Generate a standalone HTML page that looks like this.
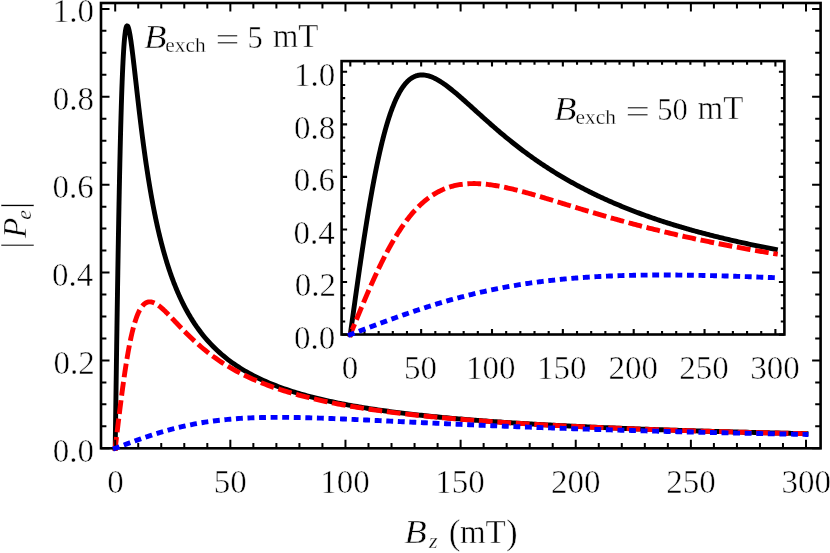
<!DOCTYPE html>
<html lang="en"><head><meta charset="utf-8"><title>Chart</title>
<style>html,body{margin:0;padding:0;background:#fff;}svg{display:block;will-change:transform;}</style></head>
<body>
<svg width="830" height="553" viewBox="0 0 830 553">
<rect x="0" y="0" width="830" height="553" fill="#fff"/>
<path d="M115.166,450.700 L115.200,448.300 L115.489,427.914 L115.778,407.600 L116.067,387.427 L116.356,367.464 L116.645,347.777 L116.934,328.430 L117.223,309.481 L117.512,290.987 L117.801,272.997 L118.090,255.556 L118.379,238.705 L118.669,222.478 L118.958,206.904 L119.247,192.006 L119.536,177.802 L119.825,164.304 L120.114,151.520 L120.403,139.453 L120.692,128.102 L120.981,117.461 L121.270,107.522 L121.559,98.272 L121.848,89.696 L122.137,81.777 L122.426,74.496 L122.715,67.832 L123.004,61.763 L123.293,56.264 L123.582,51.314 L123.871,46.886 L124.160,42.957 L124.449,39.501 L124.738,36.495 L125.027,33.913 L125.316,31.733 L125.606,29.931 L125.895,28.483 L126.184,27.370 L126.473,26.569 L126.762,26.059 L127.051,25.823 L127.340,25.840 L127.629,26.093 L127.918,26.566 L128.207,27.242 L128.496,28.106 L128.785,29.143 L129.074,30.341 L129.363,31.686 L129.652,33.166 L129.941,34.769 L130.230,36.486 L130.519,38.306 L130.808,40.219 L131.097,42.218 L131.386,44.293 L131.675,46.437 L131.964,48.644 L132.253,50.905 L132.543,53.216 L132.832,55.570 L133.121,57.962 L133.410,60.387 L133.699,62.841 L133.988,65.318 L134.277,67.816 L134.566,70.329 L134.855,72.856 L135.144,75.393 L135.433,77.937 L135.722,80.484 L136.011,83.034 L136.300,85.583 L136.589,88.129 L136.878,90.671 L137.167,93.206 L137.456,95.734 L137.745,98.252 L138.034,100.760 L138.323,103.255 L138.612,105.737 L138.901,108.206 L139.190,110.659 L139.480,113.096 L139.769,115.517 L140.058,117.920 L140.347,120.306 L140.636,122.673 L140.925,125.021 L141.214,127.350 L141.503,129.659 L141.792,131.949 L142.081,134.218 L142.370,136.466 L142.659,138.694 L142.948,140.902 L143.237,143.088 L143.526,145.253 L143.815,147.397 L144.104,149.520 L144.393,151.622 L144.682,153.703 L144.971,155.763 L145.260,157.802 L145.549,159.819 L145.838,161.816 L146.127,163.792 L146.417,165.748 L146.706,167.683 L146.995,169.597 L147.284,171.491 L147.573,173.365 L147.862,175.219 L148.151,177.053 L148.440,178.868 L148.729,180.662 L149.018,182.438 L149.307,184.195 L149.596,185.932 L149.885,187.651 L150.174,189.351 L150.463,191.033 L150.752,192.697 L151.041,194.342 L151.330,195.970 L151.619,197.581 L151.908,199.174 L152.197,200.749 L152.486,202.308 L152.775,203.850 L153.064,205.376 L153.354,206.885 L153.643,208.378 L153.932,209.854 L154.221,211.316 L154.510,212.761 L154.799,214.191 L155.088,215.606 L155.377,217.006 L155.666,218.391 L155.955,219.762 L156.244,221.118 L156.533,222.460 L156.822,223.787 L157.111,225.101 L157.400,226.401 L157.689,227.688 L157.978,228.961 L158.267,230.221 L158.556,231.468 L158.845,232.703 L159.134,233.924 L159.423,235.133 L159.712,236.330 L160.001,237.515 L160.291,238.687 L160.580,239.848 L160.869,240.997 L161.158,242.135 L161.447,243.261 L161.736,244.376 L162.025,245.479 L162.314,246.572 L162.603,247.654 L162.892,248.726 L163.181,249.787 L163.470,250.837 L163.759,251.877 L164.048,252.907 L164.337,253.928 L164.626,254.938 L164.915,255.938 L165.204,256.929 L165.493,257.911 L165.782,258.883 L166.071,259.846 L166.360,260.800 L166.649,261.745 L166.938,262.680 L167.228,263.608 L167.517,264.526 L167.806,265.436 L168.095,266.338 L168.384,267.231 L168.673,268.116 L168.962,268.993 L169.251,269.862 L169.540,270.723 L169.829,271.576 L170.118,272.421 L170.407,273.259 L170.696,274.090 L170.985,274.913 L171.274,275.728 L171.563,276.537 L171.852,277.338 L172.141,278.132 L172.430,278.919 L172.719,279.699 L173.008,280.473 L173.297,281.240 L173.586,282.000 L173.875,282.753 L174.165,283.500 L174.454,284.241 L174.743,284.975 L175.032,285.703 L175.321,286.425 L175.610,287.141 L175.899,287.851 L176.188,288.555 L176.477,289.253 L176.766,289.945 L177.055,290.631 L177.344,291.312 L177.633,291.987 L177.922,292.657 L178.211,293.321 L178.500,293.979 L178.789,294.633 L179.078,295.281 L179.367,295.923 L179.656,296.561 L179.945,297.194 L180.234,297.821 L180.523,298.443 L180.812,299.061 L181.102,299.674 L181.391,300.281 L181.680,300.884 L181.969,301.483 L182.258,302.076 L182.547,302.665 L182.836,303.250 L183.125,303.830 L183.414,304.405 L183.703,304.976 L183.992,305.543 L184.281,306.105 L186.360,310.028 L188.440,313.747 L190.519,317.276 L192.598,320.629 L194.678,323.819 L196.757,326.857 L198.837,329.753 L200.916,332.518 L202.995,335.158 L205.075,337.684 L207.154,340.101 L209.233,342.416 L211.313,344.636 L213.392,346.766 L215.471,348.812 L217.551,350.778 L219.630,352.669 L221.710,354.489 L223.789,356.242 L225.868,357.931 L227.948,359.560 L230.027,361.132 L232.106,362.650 L234.186,364.117 L236.265,365.534 L238.344,366.905 L240.424,368.232 L242.503,369.517 L244.582,370.761 L246.662,371.967 L248.741,373.137 L250.821,374.271 L252.900,375.372 L254.979,376.441 L257.059,377.480 L259.138,378.489 L261.217,379.469 L263.297,380.423 L265.376,381.351 L267.455,382.254 L269.535,383.133 L271.614,383.989 L273.694,384.823 L275.773,385.636 L277.852,386.429 L279.932,387.201 L282.011,387.955 L284.090,388.691 L286.170,389.408 L288.249,390.109 L290.328,390.794 L292.408,391.462 L294.487,392.116 L296.567,392.754 L298.646,393.378 L300.725,393.989 L302.805,394.586 L304.884,395.170 L306.963,395.742 L309.043,396.301 L311.122,396.849 L313.201,397.385 L315.281,397.911 L317.360,398.425 L319.439,398.929 L321.519,399.424 L323.598,399.908 L325.678,400.383 L327.757,400.849 L329.836,401.306 L331.916,401.754 L333.995,402.194 L336.074,402.625 L338.154,403.049 L340.233,403.464 L342.312,403.873 L344.392,404.273 L346.471,404.667 L348.551,405.054 L350.630,405.434 L352.709,405.807 L354.789,406.174 L356.868,406.535 L358.947,406.889 L361.027,407.238 L363.106,407.581 L365.185,407.918 L367.265,408.250 L369.344,408.576 L371.424,408.897 L373.503,409.213 L375.582,409.523 L377.662,409.829 L379.741,410.131 L381.820,410.427 L383.900,410.719 L385.979,411.006 L388.058,411.290 L390.138,411.568 L392.217,411.843 L394.296,412.114 L396.376,412.380 L398.455,412.643 L400.535,412.902 L402.614,413.157 L404.693,413.409 L406.773,413.657 L408.852,413.901 L410.931,414.142 L413.011,414.380 L415.090,414.614 L417.169,414.846 L419.249,415.074 L421.328,415.299 L423.408,415.521 L425.487,415.740 L427.566,415.956 L429.646,416.169 L431.725,416.380 L433.804,416.587 L435.884,416.792 L437.963,416.995 L440.042,417.195 L442.122,417.392 L444.201,417.587 L446.281,417.779 L448.360,417.969 L450.439,418.157 L452.519,418.342 L454.598,418.525 L456.677,418.706 L458.757,418.885 L460.836,419.061 L462.915,419.236 L464.995,419.408 L467.074,419.578 L469.153,419.747 L471.233,419.913 L473.312,420.078 L475.392,420.240 L477.471,420.401 L479.550,420.560 L481.630,420.717 L483.709,420.872 L485.788,421.026 L487.868,421.178 L489.947,421.328 L492.026,421.476 L494.106,421.623 L496.185,421.769 L498.265,421.912 L500.344,422.055 L502.423,422.195 L504.503,422.334 L506.582,422.472 L508.661,422.608 L510.741,422.743 L512.820,422.876 L514.899,423.009 L516.979,423.139 L519.058,423.268 L521.138,423.396 L523.217,423.523 L525.296,423.649 L527.376,423.773 L529.455,423.896 L531.534,424.017 L533.614,424.138 L535.693,424.257 L537.772,424.375 L539.852,424.492 L541.931,424.608 L544.010,424.723 L546.090,424.836 L548.169,424.949 L550.249,425.060 L552.328,425.171 L554.407,425.280 L556.487,425.388 L558.566,425.496 L560.645,425.602 L562.725,425.707 L564.804,425.812 L566.883,425.915 L568.963,426.017 L571.042,426.119 L573.122,426.219 L575.201,426.319 L577.280,426.418 L579.360,426.516 L581.439,426.613 L583.518,426.709 L585.598,426.804 L587.677,426.899 L589.756,426.992 L591.836,427.085 L593.915,427.177 L595.995,427.269 L598.074,427.359 L600.153,427.449 L602.233,427.538 L604.312,427.626 L606.391,427.713 L608.471,427.800 L610.550,427.886 L612.629,427.971 L614.709,428.056 L616.788,428.139 L618.867,428.223 L620.947,428.305 L623.026,428.387 L625.106,428.468 L627.185,428.548 L629.264,428.628 L631.344,428.707 L633.423,428.786 L635.502,428.864 L637.582,428.941 L639.661,429.018 L641.740,429.094 L643.820,429.169 L645.899,429.244 L647.979,429.318 L650.058,429.392 L652.137,429.465 L654.217,429.538 L656.296,429.610 L658.375,429.681 L660.455,429.752 L662.534,429.823 L664.613,429.893 L666.693,429.962 L668.772,430.031 L670.852,430.099 L672.931,430.167 L675.010,430.234 L677.090,430.301 L679.169,430.367 L681.248,430.433 L683.328,430.498 L685.407,430.563 L687.486,430.628 L689.566,430.692 L691.645,430.755 L693.724,430.818 L695.804,430.881 L697.883,430.943 L699.963,431.004 L702.042,431.066 L704.121,431.126 L706.201,431.187 L708.280,431.247 L710.359,431.306 L712.439,431.365 L714.518,431.424 L716.597,431.482 L718.677,431.540 L720.756,431.598 L722.836,431.655 L724.915,431.712 L726.994,431.768 L729.074,431.824 L731.153,431.880 L733.232,431.935 L735.312,431.990 L737.391,432.044 L739.470,432.098 L741.550,432.152 L743.629,432.205 L745.709,432.258 L747.788,432.311 L749.867,432.363 L751.947,432.415 L754.026,432.467 L756.105,432.518 L758.185,432.569 L760.264,432.620 L762.343,432.670 L764.423,432.720 L766.502,432.770 L768.581,432.820 L770.661,432.869 L772.740,432.917 L774.820,432.966 L776.899,433.014 L778.978,433.062 L781.058,433.109 L783.137,433.157 L785.216,433.204 L787.296,433.250 L789.375,433.297 L791.454,433.343 L793.534,433.389 L795.613,433.434 L797.693,433.479 L799.772,433.524 L801.851,433.569 L803.931,433.614 L806.010,433.658 L808.409,433.709" fill="none" stroke="#000" stroke-width="4.90"  stroke-linejoin="round"/>
<path d="M114.919,450.683 L115.200,448.300 L115.489,445.849 L115.778,443.399 L116.067,440.951 L116.356,438.506 L116.645,436.065 L116.934,433.629 L117.223,431.199 L117.512,428.777 L117.801,426.363 L118.090,423.957 L118.379,421.562 L118.669,419.178 L118.958,416.805 L119.247,414.446 L119.536,412.100 L119.825,409.770 L120.114,407.454 L120.403,405.155 L120.692,402.873 L120.981,400.609 L121.270,398.364 L121.559,396.139 L121.848,393.933 L122.137,391.749 L122.426,389.587 L122.715,387.446 L123.004,385.329 L123.293,383.235 L123.582,381.165 L123.871,379.120 L124.160,377.100 L124.449,375.106 L124.738,373.138 L125.027,371.197 L125.316,369.282 L125.606,367.395 L125.895,365.535 L126.184,363.704 L126.473,361.901 L126.762,360.126 L127.051,358.381 L127.340,356.664 L127.629,354.977 L127.918,353.319 L128.207,351.690 L128.496,350.091 L128.785,348.522 L129.074,346.983 L129.363,345.474 L129.652,343.994 L129.941,342.545 L130.230,341.125 L130.519,339.735 L130.808,338.375 L131.097,337.044 L131.386,335.744 L131.675,334.472 L131.964,333.230 L132.253,332.017 L132.543,330.833 L132.832,329.678 L133.121,328.552 L133.410,327.454 L133.699,326.384 L133.988,325.342 L134.277,324.328 L134.566,323.342 L134.855,322.382 L135.144,321.450 L135.433,320.544 L135.722,319.665 L136.011,318.811 L136.300,317.984 L136.589,317.182 L136.878,316.404 L137.167,315.652 L137.456,314.924 L137.745,314.220 L138.034,313.540 L138.323,312.884 L138.612,312.250 L138.901,311.639 L139.190,311.051 L139.480,310.485 L139.769,309.940 L140.058,309.416 L140.347,308.914 L140.636,308.432 L140.925,307.970 L141.214,307.529 L141.503,307.106 L141.792,306.703 L142.081,306.319 L142.370,305.953 L142.659,305.606 L142.948,305.276 L143.237,304.963 L143.526,304.668 L143.815,304.389 L144.104,304.127 L144.393,303.881 L144.682,303.651 L144.971,303.435 L145.260,303.235 L145.549,303.050 L145.838,302.879 L146.127,302.723 L146.417,302.580 L146.706,302.451 L146.995,302.334 L147.284,302.231 L147.573,302.140 L147.862,302.062 L148.151,301.996 L148.440,301.941 L148.729,301.898 L149.018,301.866 L149.307,301.845 L149.596,301.835 L149.885,301.835 L150.174,301.845 L150.463,301.865 L150.752,301.894 L151.041,301.933 L151.330,301.981 L151.619,302.039 L151.908,302.104 L152.197,302.178 L152.486,302.261 L152.775,302.351 L153.064,302.449 L153.354,302.555 L153.643,302.668 L153.932,302.789 L154.221,302.916 L154.510,303.050 L154.799,303.191 L155.088,303.338 L155.377,303.491 L155.666,303.650 L155.955,303.815 L156.244,303.986 L156.533,304.162 L156.822,304.344 L157.111,304.531 L157.400,304.723 L157.689,304.920 L157.978,305.121 L158.267,305.327 L158.556,305.538 L158.845,305.753 L159.134,305.972 L159.423,306.195 L159.712,306.421 L160.001,306.652 L160.291,306.886 L160.580,307.124 L160.869,307.365 L161.158,307.610 L161.447,307.857 L161.736,308.108 L162.025,308.362 L162.314,308.618 L162.603,308.877 L162.892,309.139 L163.181,309.403 L163.470,309.670 L163.759,309.939 L164.048,310.210 L164.337,310.484 L164.626,310.759 L164.915,311.037 L165.204,311.316 L165.493,311.597 L165.782,311.880 L166.071,312.165 L166.360,312.451 L166.649,312.738 L166.938,313.028 L167.228,313.318 L167.517,313.610 L167.806,313.903 L168.095,314.197 L168.384,314.492 L168.673,314.788 L168.962,315.085 L169.251,315.384 L169.540,315.683 L169.829,315.982 L170.118,316.283 L170.407,316.584 L170.696,316.886 L170.985,317.189 L171.274,317.492 L171.563,317.795 L171.852,318.099 L172.141,318.404 L172.430,318.709 L172.719,319.014 L173.008,319.319 L173.297,319.625 L173.586,319.931 L173.875,320.237 L174.165,320.543 L174.454,320.849 L174.743,321.156 L175.032,321.462 L175.321,321.769 L175.610,322.075 L175.899,322.381 L176.188,322.688 L176.477,322.994 L176.766,323.300 L177.055,323.605 L177.344,323.911 L177.633,324.216 L177.922,324.521 L178.211,324.826 L178.500,325.131 L178.789,325.435 L179.078,325.739 L179.367,326.042 L179.656,326.345 L179.945,326.648 L180.234,326.950 L180.523,327.252 L180.812,327.553 L181.102,327.854 L181.391,328.154 L181.680,328.454 L181.969,328.753 L182.258,329.052 L182.547,329.350 L182.836,329.648 L183.125,329.945 L183.414,330.241 L183.703,330.537 L183.992,330.832 L184.281,331.127 L186.360,333.225 L188.440,335.286 L190.519,337.306 L192.598,339.284 L194.678,341.218 L196.757,343.107 L198.837,344.950 L200.916,346.748 L202.995,348.501 L205.075,350.208 L207.154,351.872 L209.233,353.491 L211.313,355.068 L213.392,356.603 L215.471,358.097 L217.551,359.551 L219.630,360.966 L221.710,362.343 L223.789,363.684 L225.868,364.989 L227.948,366.259 L230.027,367.496 L232.106,368.700 L234.186,369.873 L236.265,371.015 L238.344,372.128 L240.424,373.213 L242.503,374.270 L244.582,375.300 L246.662,376.304 L248.741,377.284 L250.821,378.239 L252.900,379.171 L254.979,380.080 L257.059,380.967 L259.138,381.833 L261.217,382.678 L263.297,383.504 L265.376,384.310 L267.455,385.098 L269.535,385.868 L271.614,386.620 L273.694,387.355 L275.773,388.074 L277.852,388.777 L279.932,389.465 L282.011,390.138 L284.090,390.796 L286.170,391.440 L288.249,392.071 L290.328,392.688 L292.408,393.293 L294.487,393.885 L296.567,394.465 L298.646,395.033 L300.725,395.590 L302.805,396.135 L304.884,396.670 L306.963,397.195 L309.043,397.709 L311.122,398.213 L313.201,398.708 L315.281,399.194 L317.360,399.670 L319.439,400.137 L321.519,400.596 L323.598,401.046 L325.678,401.489 L327.757,401.923 L329.836,402.349 L331.916,402.768 L333.995,403.180 L336.074,403.584 L338.154,403.982 L340.233,404.372 L342.312,404.756 L344.392,405.134 L346.471,405.505 L348.551,405.870 L350.630,406.229 L352.709,406.582 L354.789,406.929 L356.868,407.271 L358.947,407.607 L361.027,407.938 L363.106,408.263 L365.185,408.584 L367.265,408.899 L369.344,409.210 L371.424,409.516 L373.503,409.817 L375.582,410.113 L377.662,410.406 L379.741,410.693 L381.820,410.977 L383.900,411.256 L385.979,411.532 L388.058,411.803 L390.138,412.071 L392.217,412.334 L394.296,412.594 L396.376,412.850 L398.455,413.103 L400.535,413.352 L402.614,413.597 L404.693,413.840 L406.773,414.079 L408.852,414.314 L410.931,414.547 L413.011,414.776 L415.090,415.002 L417.169,415.226 L419.249,415.446 L421.328,415.664 L423.408,415.878 L425.487,416.090 L427.566,416.300 L429.646,416.506 L431.725,416.710 L433.804,416.911 L435.884,417.110 L437.963,417.307 L440.042,417.501 L442.122,417.692 L444.201,417.881 L446.281,418.068 L448.360,418.253 L450.439,418.435 L452.519,418.616 L454.598,418.794 L456.677,418.970 L458.757,419.144 L460.836,419.316 L462.915,419.486 L464.995,419.654 L467.074,419.820 L469.153,419.984 L471.233,420.146 L473.312,420.307 L475.392,420.465 L477.471,420.622 L479.550,420.777 L481.630,420.931 L483.709,421.082 L485.788,421.232 L487.868,421.381 L489.947,421.528 L492.026,421.673 L494.106,421.817 L496.185,421.959 L498.265,422.100 L500.344,422.239 L502.423,422.376 L504.503,422.513 L506.582,422.648 L508.661,422.781 L510.741,422.913 L512.820,423.044 L514.899,423.173 L516.979,423.302 L519.058,423.428 L521.138,423.554 L523.217,423.678 L525.296,423.801 L527.376,423.923 L529.455,424.044 L531.534,424.163 L533.614,424.282 L535.693,424.399 L537.772,424.515 L539.852,424.630 L541.931,424.744 L544.010,424.856 L546.090,424.968 L548.169,425.079 L550.249,425.188 L552.328,425.297 L554.407,425.404 L556.487,425.511 L558.566,425.617 L560.645,425.721 L562.725,425.825 L564.804,425.928 L566.883,426.029 L568.963,426.130 L571.042,426.230 L573.122,426.329 L575.201,426.428 L577.280,426.525 L579.360,426.621 L581.439,426.717 L583.518,426.812 L585.598,426.906 L587.677,426.999 L589.756,427.091 L591.836,427.183 L593.915,427.274 L595.995,427.364 L598.074,427.453 L600.153,427.541 L602.233,427.629 L604.312,427.716 L606.391,427.802 L608.471,427.888 L610.550,427.973 L612.629,428.057 L614.709,428.140 L616.788,428.223 L618.867,428.305 L620.947,428.387 L623.026,428.467 L625.106,428.548 L627.185,428.627 L629.264,428.706 L631.344,428.784 L633.423,428.862 L635.502,428.939 L637.582,429.015 L639.661,429.091 L641.740,429.166 L643.820,429.241 L645.899,429.315 L647.979,429.388 L650.058,429.461 L652.137,429.534 L654.217,429.605 L656.296,429.677 L658.375,429.747 L660.455,429.818 L662.534,429.887 L664.613,429.956 L666.693,430.025 L668.772,430.093 L670.852,430.161 L672.931,430.228 L675.010,430.294 L677.090,430.361 L679.169,430.426 L681.248,430.491 L683.328,430.556 L685.407,430.620 L687.486,430.684 L689.566,430.747 L691.645,430.810 L693.724,430.873 L695.804,430.935 L697.883,430.996 L699.963,431.057 L702.042,431.118 L704.121,431.178 L706.201,431.238 L708.280,431.297 L710.359,431.356 L712.439,431.415 L714.518,431.473 L716.597,431.531 L718.677,431.588 L720.756,431.645 L722.836,431.702 L724.915,431.758 L726.994,431.814 L729.074,431.870 L731.153,431.925 L733.232,431.980 L735.312,432.034 L737.391,432.088 L739.470,432.142 L741.550,432.195 L743.629,432.248 L745.709,432.301 L747.788,432.353 L749.867,432.405 L751.947,432.456 L754.026,432.508 L756.105,432.559 L758.185,432.609 L760.264,432.659 L762.343,432.709 L764.423,432.759 L766.502,432.808 L768.581,432.857 L770.661,432.906 L772.740,432.955 L774.820,433.003 L776.899,433.051 L778.978,433.098 L781.058,433.145 L783.137,433.192 L785.216,433.239 L787.296,433.285 L789.375,433.331 L791.454,433.377 L793.534,433.423 L795.613,433.468 L797.693,433.513 L799.772,433.557 L801.851,433.602 L803.931,433.646 L806.010,433.690 L808.409,433.741" fill="none" stroke="#f00" stroke-width="4.90" stroke-dasharray="13.8 4.7" stroke-linejoin="round"/>
<path d="M138.23,448.30 v-5.40 M138.23,3.00 v5.40 M161.25,448.30 v-5.40 M161.25,3.00 v5.40 M184.28,448.30 v-5.40 M184.28,3.00 v5.40 M207.31,448.30 v-5.40 M207.31,3.00 v5.40 M253.36,448.30 v-5.40 M253.36,3.00 v5.40 M276.39,448.30 v-5.40 M276.39,3.00 v5.40 M299.42,448.30 v-5.40 M299.42,3.00 v5.40 M322.44,448.30 v-5.40 M322.44,3.00 v5.40 M368.50,448.30 v-5.40 M368.50,3.00 v5.40 M391.52,448.30 v-5.40 M391.52,3.00 v5.40 M414.55,448.30 v-5.40 M414.55,3.00 v5.40 M437.58,448.30 v-5.40 M437.58,3.00 v5.40 M483.63,448.30 v-5.40 M483.63,3.00 v5.40 M506.66,448.30 v-5.40 M506.66,3.00 v5.40 M529.69,448.30 v-5.40 M529.69,3.00 v5.40 M552.71,448.30 v-5.40 M552.71,3.00 v5.40 M598.77,448.30 v-5.40 M598.77,3.00 v5.40 M621.79,448.30 v-5.40 M621.79,3.00 v5.40 M644.82,448.30 v-5.40 M644.82,3.00 v5.40 M667.85,448.30 v-5.40 M667.85,3.00 v5.40 M713.90,448.30 v-5.40 M713.90,3.00 v5.40 M736.93,448.30 v-5.40 M736.93,3.00 v5.40 M759.96,448.30 v-5.40 M759.96,3.00 v5.40 M782.98,448.30 v-5.40 M782.98,3.00 v5.40 M115.20,448.30 v-8.50 M115.20,3.00 v8.50 M230.34,448.30 v-8.50 M230.34,3.00 v8.50 M345.47,448.30 v-8.50 M345.47,3.00 v8.50 M460.61,448.30 v-8.50 M460.61,3.00 v8.50 M575.74,448.30 v-8.50 M575.74,3.00 v8.50 M690.88,448.30 v-8.50 M690.88,3.00 v8.50 M806.01,448.30 v-8.50 M806.01,3.00 v8.50 M101.00,426.33 h5.40 M820.60,426.33 h-5.40 M101.00,404.36 h5.40 M820.60,404.36 h-5.40 M101.00,382.39 h5.40 M820.60,382.39 h-5.40 M101.00,338.45 h5.40 M820.60,338.45 h-5.40 M101.00,316.48 h5.40 M820.60,316.48 h-5.40 M101.00,294.51 h5.40 M820.60,294.51 h-5.40 M101.00,250.57 h5.40 M820.60,250.57 h-5.40 M101.00,228.60 h5.40 M820.60,228.60 h-5.40 M101.00,206.63 h5.40 M820.60,206.63 h-5.40 M101.00,162.69 h5.40 M820.60,162.69 h-5.40 M101.00,140.72 h5.40 M820.60,140.72 h-5.40 M101.00,118.75 h5.40 M820.60,118.75 h-5.40 M101.00,74.81 h5.40 M820.60,74.81 h-5.40 M101.00,52.84 h5.40 M820.60,52.84 h-5.40 M101.00,30.87 h5.40 M820.60,30.87 h-5.40 M101.00,448.30 h8.50 M820.60,448.30 h-8.50 M101.00,360.42 h8.50 M820.60,360.42 h-8.50 M101.00,272.54 h8.50 M820.60,272.54 h-8.50 M101.00,184.66 h8.50 M820.60,184.66 h-8.50 M101.00,96.78 h8.50 M820.60,96.78 h-8.50 M101.00,8.90 h8.50 M820.60,8.90 h-8.50 " stroke="#000" stroke-width="2.00" fill="none"/>
<rect x="101.00" y="3.00" width="719.60" height="445.30" fill="none" stroke="#000" stroke-width="2.6"/>
<path d="M112.955,449.150 L115.200,448.300 L115.489,448.191 L115.778,448.081 L116.067,447.972 L116.356,447.862 L116.645,447.753 L116.934,447.644 L117.223,447.534 L117.512,447.425 L117.801,447.316 L118.090,447.206 L118.379,447.097 L118.669,446.988 L118.958,446.878 L119.247,446.769 L119.536,446.660 L119.825,446.551 L120.114,446.442 L120.403,446.333 L120.692,446.224 L120.981,446.114 L121.270,446.006 L121.559,445.897 L121.848,445.788 L122.137,445.679 L122.426,445.570 L122.715,445.461 L123.004,445.353 L123.293,445.244 L123.582,445.135 L123.871,445.027 L124.160,444.918 L124.449,444.810 L124.738,444.702 L125.027,444.593 L125.316,444.485 L125.606,444.377 L125.895,444.269 L126.184,444.161 L126.473,444.053 L126.762,443.945 L127.051,443.838 L127.340,443.730 L127.629,443.622 L127.918,443.515 L128.207,443.407 L128.496,443.300 L128.785,443.193 L129.074,443.086 L129.363,442.979 L129.652,442.872 L129.941,442.765 L130.230,442.658 L130.519,442.552 L130.808,442.445 L131.097,442.339 L131.386,442.232 L131.675,442.126 L131.964,442.020 L132.253,441.914 L132.543,441.808 L132.832,441.703 L133.121,441.597 L133.410,441.491 L133.699,441.386 L133.988,441.281 L134.277,441.176 L134.566,441.071 L134.855,440.966 L135.144,440.861 L135.433,440.757 L135.722,440.652 L136.011,440.548 L136.300,440.444 L136.589,440.340 L136.878,440.236 L137.167,440.132 L137.456,440.029 L137.745,439.925 L138.034,439.822 L138.323,439.719 L138.612,439.616 L138.901,439.513 L139.190,439.410 L139.480,439.308 L139.769,439.205 L140.058,439.103 L140.347,439.001 L140.636,438.899 L140.925,438.798 L141.214,438.696 L141.503,438.595 L141.792,438.493 L142.081,438.392 L142.370,438.292 L142.659,438.191 L142.948,438.090 L143.237,437.990 L143.526,437.890 L143.815,437.790 L144.104,437.690 L144.393,437.591 L144.682,437.491 L144.971,437.392 L145.260,437.293 L145.549,437.194 L145.838,437.096 L146.127,436.997 L146.417,436.899 L146.706,436.801 L146.995,436.703 L147.284,436.606 L147.573,436.508 L147.862,436.411 L148.151,436.314 L148.440,436.217 L148.729,436.120 L149.018,436.024 L149.307,435.928 L149.596,435.832 L149.885,435.736 L150.174,435.640 L150.463,435.545 L150.752,435.450 L151.041,435.355 L151.330,435.260 L151.619,435.166 L151.908,435.072 L152.197,434.977 L152.486,434.884 L152.775,434.790 L153.064,434.697 L153.354,434.603 L153.643,434.511 L153.932,434.418 L154.221,434.325 L154.510,434.233 L154.799,434.141 L155.088,434.049 L155.377,433.958 L155.666,433.866 L155.955,433.775 L156.244,433.685 L156.533,433.594 L156.822,433.504 L157.111,433.413 L157.400,433.324 L157.689,433.234 L157.978,433.145 L158.267,433.055 L158.556,432.966 L158.845,432.878 L159.134,432.789 L159.423,432.701 L159.712,432.613 L160.001,432.526 L160.291,432.438 L160.580,432.351 L160.869,432.264 L161.158,432.177 L161.447,432.091 L161.736,432.005 L162.025,431.919 L162.314,431.833 L162.603,431.748 L162.892,431.663 L163.181,431.578 L163.470,431.493 L163.759,431.409 L164.048,431.325 L164.337,431.241 L164.626,431.157 L164.915,431.074 L165.204,430.991 L165.493,430.908 L165.782,430.825 L166.071,430.743 L166.360,430.661 L166.649,430.579 L166.938,430.498 L167.228,430.417 L167.517,430.336 L167.806,430.255 L168.095,430.175 L168.384,430.095 L168.673,430.015 L168.962,429.935 L169.251,429.856 L169.540,429.777 L169.829,429.698 L170.118,429.619 L170.407,429.541 L170.696,429.463 L170.985,429.386 L171.274,429.308 L171.563,429.231 L171.852,429.154 L172.141,429.077 L172.430,429.001 L172.719,428.925 L173.008,428.849 L173.297,428.774 L173.586,428.699 L173.875,428.624 L174.165,428.549 L174.454,428.475 L174.743,428.400 L175.032,428.327 L175.321,428.253 L175.610,428.180 L175.899,428.107 L176.188,428.034 L176.477,427.962 L176.766,427.889 L177.055,427.818 L177.344,427.746 L177.633,427.675 L177.922,427.604 L178.211,427.533 L178.500,427.462 L178.789,427.392 L179.078,427.322 L179.367,427.253 L179.656,427.183 L179.945,427.114 L180.234,427.045 L180.523,426.977 L180.812,426.909 L181.102,426.841 L181.391,426.773 L181.680,426.706 L181.969,426.639 L182.258,426.572 L182.547,426.505 L182.836,426.439 L183.125,426.373 L183.414,426.307 L183.703,426.242 L183.992,426.177 L184.281,426.112 L186.360,425.654 L188.440,425.210 L190.519,424.781 L192.598,424.366 L194.678,423.966 L196.757,423.579 L198.837,423.207 L200.916,422.849 L202.995,422.505 L205.075,422.174 L207.154,421.857 L209.233,421.553 L211.313,421.262 L213.392,420.984 L215.471,420.719 L217.551,420.465 L219.630,420.224 L221.710,419.995 L223.789,419.778 L225.868,419.572 L227.948,419.377 L230.027,419.192 L232.106,419.019 L234.186,418.855 L236.265,418.702 L238.344,418.559 L240.424,418.425 L242.503,418.300 L244.582,418.185 L246.662,418.078 L248.741,417.979 L250.821,417.889 L252.900,417.807 L254.979,417.732 L257.059,417.665 L259.138,417.606 L261.217,417.553 L263.297,417.507 L265.376,417.468 L267.455,417.435 L269.535,417.408 L271.614,417.387 L273.694,417.371 L275.773,417.361 L277.852,417.357 L279.932,417.357 L282.011,417.363 L284.090,417.373 L286.170,417.387 L288.249,417.406 L290.328,417.429 L292.408,417.456 L294.487,417.487 L296.567,417.522 L298.646,417.560 L300.725,417.602 L302.805,417.647 L304.884,417.695 L306.963,417.746 L309.043,417.800 L311.122,417.856 L313.201,417.915 L315.281,417.977 L317.360,418.041 L319.439,418.107 L321.519,418.175 L323.598,418.246 L325.678,418.318 L327.757,418.392 L329.836,418.468 L331.916,418.546 L333.995,418.625 L336.074,418.706 L338.154,418.788 L340.233,418.871 L342.312,418.956 L344.392,419.042 L346.471,419.129 L348.551,419.217 L350.630,419.305 L352.709,419.395 L354.789,419.486 L356.868,419.578 L358.947,419.670 L361.027,419.763 L363.106,419.857 L365.185,419.951 L367.265,420.046 L369.344,420.141 L371.424,420.237 L373.503,420.333 L375.582,420.429 L377.662,420.526 L379.741,420.623 L381.820,420.721 L383.900,420.818 L385.979,420.916 L388.058,421.014 L390.138,421.112 L392.217,421.211 L394.296,421.309 L396.376,421.407 L398.455,421.506 L400.535,421.604 L402.614,421.702 L404.693,421.801 L406.773,421.899 L408.852,421.997 L410.931,422.095 L413.011,422.193 L415.090,422.291 L417.169,422.389 L419.249,422.486 L421.328,422.583 L423.408,422.680 L425.487,422.777 L427.566,422.874 L429.646,422.970 L431.725,423.066 L433.804,423.162 L435.884,423.257 L437.963,423.353 L440.042,423.448 L442.122,423.542 L444.201,423.637 L446.281,423.731 L448.360,423.824 L450.439,423.917 L452.519,424.010 L454.598,424.103 L456.677,424.195 L458.757,424.287 L460.836,424.379 L462.915,424.470 L464.995,424.560 L467.074,424.651 L469.153,424.741 L471.233,424.830 L473.312,424.919 L475.392,425.008 L477.471,425.096 L479.550,425.184 L481.630,425.272 L483.709,425.359 L485.788,425.445 L487.868,425.532 L489.947,425.618 L492.026,425.703 L494.106,425.788 L496.185,425.872 L498.265,425.957 L500.344,426.040 L502.423,426.124 L504.503,426.206 L506.582,426.289 L508.661,426.371 L510.741,426.452 L512.820,426.533 L514.899,426.614 L516.979,426.694 L519.058,426.774 L521.138,426.854 L523.217,426.933 L525.296,427.011 L527.376,427.089 L529.455,427.167 L531.534,427.244 L533.614,427.321 L535.693,427.398 L537.772,427.474 L539.852,427.549 L541.931,427.624 L544.010,427.699 L546.090,427.773 L548.169,427.847 L550.249,427.921 L552.328,427.994 L554.407,428.067 L556.487,428.139 L558.566,428.211 L560.645,428.282 L562.725,428.353 L564.804,428.424 L566.883,428.494 L568.963,428.564 L571.042,428.633 L573.122,428.702 L575.201,428.771 L577.280,428.839 L579.360,428.907 L581.439,428.975 L583.518,429.042 L585.598,429.109 L587.677,429.175 L589.756,429.241 L591.836,429.307 L593.915,429.372 L595.995,429.437 L598.074,429.501 L600.153,429.565 L602.233,429.629 L604.312,429.692 L606.391,429.755 L608.471,429.818 L610.550,429.880 L612.629,429.942 L614.709,430.004 L616.788,430.065 L618.867,430.126 L620.947,430.187 L623.026,430.247 L625.106,430.307 L627.185,430.366 L629.264,430.425 L631.344,430.484 L633.423,430.543 L635.502,430.601 L637.582,430.659 L639.661,430.716 L641.740,430.774 L643.820,430.831 L645.899,430.887 L647.979,430.943 L650.058,430.999 L652.137,431.055 L654.217,431.110 L656.296,431.165 L658.375,431.220 L660.455,431.274 L662.534,431.328 L664.613,431.382 L666.693,431.435 L668.772,431.489 L670.852,431.541 L672.931,431.594 L675.010,431.646 L677.090,431.698 L679.169,431.750 L681.248,431.801 L683.328,431.853 L685.407,431.903 L687.486,431.954 L689.566,432.004 L691.645,432.054 L693.724,432.104 L695.804,432.154 L697.883,432.203 L699.963,432.252 L702.042,432.300 L704.121,432.349 L706.201,432.397 L708.280,432.445 L710.359,432.492 L712.439,432.540 L714.518,432.587 L716.597,432.634 L718.677,432.680 L720.756,432.726 L722.836,432.773 L724.915,432.818 L726.994,432.864 L729.074,432.909 L731.153,432.954 L733.232,432.999 L735.312,433.044 L737.391,433.088 L739.470,433.132 L741.550,433.176 L743.629,433.220 L745.709,433.264 L747.788,433.307 L749.867,433.350 L751.947,433.393 L754.026,433.435 L756.105,433.477 L758.185,433.520 L760.264,433.561 L762.343,433.603 L764.423,433.645 L766.502,433.686 L768.581,433.727 L770.661,433.768 L772.740,433.808 L774.820,433.849 L776.899,433.889 L778.978,433.929 L781.058,433.968 L783.137,434.008 L785.216,434.047 L787.296,434.087 L789.375,434.126 L791.454,434.164 L793.534,434.203 L795.613,434.241 L797.693,434.279 L799.772,434.317 L801.851,434.355 L803.931,434.393 L806.010,434.430 L808.410,434.473" fill="none" stroke="#00f" stroke-width="4.90" stroke-dasharray="6.9 4.67" stroke-linejoin="round"/>
<rect x="341.60" y="61.10" width="442.80" height="273.40" fill="#fff" stroke="none"/>
<path d="M349.972,336.977 L350.300,334.600 L350.478,333.312 L350.656,332.023 L350.834,330.735 L351.011,329.447 L351.189,328.159 L351.367,326.871 L351.545,325.584 L351.723,324.297 L351.901,323.010 L352.079,321.724 L352.257,320.438 L352.434,319.153 L352.612,317.868 L352.790,316.584 L352.968,315.301 L353.146,314.018 L353.324,312.736 L353.502,311.455 L353.679,310.175 L353.857,308.895 L354.035,307.617 L354.213,306.340 L354.391,305.063 L354.569,303.788 L354.747,302.514 L354.925,301.241 L355.102,299.969 L355.280,298.698 L355.458,297.429 L355.636,296.161 L355.814,294.895 L355.992,293.630 L356.170,292.366 L356.347,291.104 L356.525,289.844 L356.703,288.585 L356.881,287.328 L357.059,286.072 L357.237,284.819 L357.415,283.567 L357.593,282.317 L357.770,281.069 L357.948,279.822 L358.126,278.578 L358.304,277.336 L358.482,276.096 L358.660,274.858 L358.838,273.622 L359.015,272.388 L359.193,271.157 L359.371,269.927 L359.549,268.700 L359.727,267.476 L359.905,266.253 L360.083,265.033 L360.261,263.816 L360.438,262.601 L360.616,261.389 L360.794,260.179 L360.972,258.972 L361.150,257.767 L361.328,256.566 L361.506,255.367 L361.683,254.170 L361.861,252.977 L362.039,251.786 L362.217,250.598 L362.395,249.413 L362.573,248.231 L362.751,247.053 L362.928,245.877 L363.106,244.704 L363.284,243.534 L363.462,242.367 L363.640,241.204 L363.818,240.043 L363.996,238.886 L364.174,237.732 L364.351,236.582 L364.529,235.434 L364.707,234.290 L364.885,233.150 L365.063,232.013 L365.241,230.879 L365.419,229.749 L365.596,228.622 L365.774,227.499 L365.952,226.379 L366.130,225.263 L366.308,224.150 L366.486,223.041 L366.664,221.936 L366.842,220.835 L367.019,219.737 L367.197,218.643 L367.375,217.553 L367.553,216.466 L367.731,215.384 L367.909,214.305 L368.087,213.230 L368.264,212.159 L368.442,211.092 L368.620,210.029 L368.798,208.969 L368.976,207.914 L369.154,206.863 L369.332,205.816 L369.510,204.773 L369.687,203.734 L369.865,202.699 L370.043,201.668 L370.221,200.641 L370.399,199.618 L370.577,198.600 L370.755,197.586 L370.932,196.576 L371.110,195.570 L371.288,194.569 L371.466,193.571 L371.644,192.578 L371.822,191.590 L372.000,190.605 L372.178,189.625 L372.355,188.650 L372.533,187.678 L372.711,186.711 L372.889,185.749 L373.067,184.790 L373.245,183.837 L373.423,182.887 L373.600,181.942 L373.778,181.002 L373.956,180.066 L374.134,179.134 L374.312,178.207 L374.490,177.285 L374.668,176.367 L374.846,175.453 L375.023,174.544 L375.201,173.640 L375.379,172.740 L375.557,171.844 L375.735,170.953 L375.913,170.067 L376.091,169.185 L376.268,168.308 L376.446,167.436 L376.624,166.568 L376.802,165.704 L376.980,164.846 L377.158,163.992 L377.336,163.142 L377.514,162.297 L377.691,161.457 L377.869,160.621 L378.047,159.790 L378.225,158.964 L378.403,158.142 L378.581,157.325 L378.759,156.513 L378.936,155.705 L379.114,154.902 L379.292,154.104 L379.470,153.310 L379.648,152.521 L379.826,151.736 L380.004,150.956 L380.182,150.181 L380.359,149.411 L380.537,148.645 L380.715,147.884 L380.893,147.127 L381.071,146.375 L381.249,145.628 L381.427,144.885 L381.604,144.147 L381.782,143.414 L381.960,142.686 L382.138,141.961 L382.316,141.242 L382.494,140.527 L382.672,139.817 L382.849,139.112 L383.027,138.411 L383.205,137.715 L383.383,137.023 L383.561,136.336 L383.739,135.654 L383.917,134.976 L384.095,134.302 L384.272,133.634 L384.450,132.970 L384.628,132.310 L384.806,131.655 L384.984,131.005 L385.162,130.359 L385.340,129.718 L385.517,129.081 L385.695,128.449 L385.873,127.821 L386.051,127.198 L386.229,126.579 L386.407,125.965 L386.585,125.355 L386.763,124.750 L386.940,124.149 L387.118,123.553 L387.296,122.961 L387.474,122.374 L387.652,121.791 L387.830,121.212 L388.008,120.638 L388.185,120.068 L388.363,119.503 L388.541,118.942 L388.719,118.386 L388.897,117.833 L389.075,117.285 L389.253,116.742 L389.431,116.203 L389.608,115.668 L389.786,115.137 L389.964,114.611 L390.142,114.089 L390.320,113.571 L390.498,113.057 L390.676,112.548 L390.853,112.043 L391.031,111.542 L391.209,111.045 L391.387,110.553 L391.565,110.065 L391.743,109.581 L391.921,109.101 L392.099,108.625 L392.276,108.153 L392.454,107.685 L392.632,107.222 L392.810,106.762 L394.090,103.576 L395.369,100.595 L396.649,97.813 L397.928,95.225 L399.208,92.825 L400.487,90.606 L401.767,88.564 L403.047,86.691 L404.326,84.981 L405.606,83.429 L406.885,82.027 L408.165,80.772 L409.444,79.655 L410.724,78.672 L412.003,77.816 L413.283,77.083 L414.563,76.466 L415.842,75.960 L417.122,75.560 L418.401,75.260 L419.681,75.057 L420.960,74.944 L422.240,74.918 L423.520,74.973 L424.799,75.106 L426.079,75.313 L427.358,75.589 L428.638,75.931 L429.917,76.334 L431.197,76.796 L432.477,77.312 L433.756,77.881 L435.036,78.498 L436.315,79.160 L437.595,79.865 L438.874,80.610 L440.154,81.392 L441.433,82.210 L442.713,83.060 L443.993,83.940 L445.272,84.848 L446.552,85.782 L447.831,86.741 L449.111,87.722 L450.390,88.724 L451.670,89.744 L452.950,90.782 L454.229,91.836 L455.509,92.904 L456.788,93.985 L458.068,95.079 L459.347,96.182 L460.627,97.296 L461.907,98.417 L463.186,99.547 L464.466,100.682 L465.745,101.823 L467.025,102.969 L468.304,104.119 L469.584,105.272 L470.863,106.427 L472.143,107.584 L473.423,108.742 L474.702,109.901 L475.982,111.059 L477.261,112.217 L478.541,113.374 L479.820,114.529 L481.100,115.682 L482.380,116.833 L483.659,117.980 L484.939,119.125 L486.218,120.266 L487.498,121.403 L488.777,122.537 L490.057,123.665 L491.337,124.789 L492.616,125.909 L493.896,127.023 L495.175,128.131 L496.455,129.235 L497.734,130.332 L499.014,131.424 L500.293,132.510 L501.573,133.589 L502.853,134.662 L504.132,135.729 L505.412,136.790 L506.691,137.844 L507.971,138.891 L509.250,139.932 L510.530,140.965 L511.810,141.992 L513.089,143.012 L514.369,144.025 L515.648,145.032 L516.928,146.031 L518.207,147.023 L519.487,148.008 L520.767,148.986 L522.046,149.957 L523.326,150.920 L524.605,151.877 L525.885,152.827 L527.164,153.769 L528.444,154.704 L529.723,155.633 L531.003,156.554 L532.283,157.468 L533.562,158.376 L534.842,159.276 L536.121,160.169 L537.401,161.056 L538.680,161.935 L539.960,162.808 L541.240,163.673 L542.519,164.532 L543.799,165.384 L545.078,166.230 L546.358,167.069 L547.637,167.901 L548.917,168.726 L550.197,169.545 L551.476,170.358 L552.756,171.163 L554.035,171.963 L555.315,172.756 L556.594,173.543 L557.874,174.323 L559.153,175.098 L560.433,175.866 L561.713,176.628 L562.992,177.383 L564.272,178.133 L565.551,178.877 L566.831,179.615 L568.110,180.347 L569.390,181.073 L570.670,181.793 L571.949,182.508 L573.229,183.216 L574.508,183.920 L575.788,184.617 L577.067,185.309 L578.347,185.996 L579.627,186.677 L580.906,187.353 L582.186,188.023 L583.465,188.688 L584.745,189.348 L586.024,190.002 L587.304,190.652 L588.583,191.296 L589.863,191.935 L591.143,192.569 L592.422,193.199 L593.702,193.823 L594.981,194.442 L596.261,195.057 L597.540,195.667 L598.820,196.272 L600.100,196.872 L601.379,197.468 L602.659,198.059 L603.938,198.646 L605.218,199.228 L606.497,199.806 L607.777,200.379 L609.057,200.948 L610.336,201.512 L611.616,202.072 L612.895,202.628 L614.175,203.180 L615.454,203.728 L616.734,204.271 L618.013,204.810 L619.293,205.346 L620.573,205.877 L621.852,206.404 L623.132,206.928 L624.411,207.447 L625.691,207.963 L626.970,208.475 L628.250,208.983 L629.530,209.487 L630.809,209.987 L632.089,210.484 L633.368,210.978 L634.648,211.467 L635.927,211.953 L637.207,212.436 L638.487,212.915 L639.766,213.390 L641.046,213.863 L642.325,214.331 L643.605,214.797 L644.884,215.259 L646.164,215.717 L647.443,216.173 L648.723,216.625 L650.003,217.074 L651.282,217.520 L652.562,217.963 L653.841,218.402 L655.121,218.839 L656.400,219.272 L657.680,219.703 L658.960,220.130 L660.239,220.555 L661.519,220.976 L662.798,221.395 L664.078,221.811 L665.357,222.223 L666.637,222.633 L667.917,223.041 L669.196,223.445 L670.476,223.847 L671.755,224.246 L673.035,224.642 L674.314,225.036 L675.594,225.427 L676.873,225.815 L678.153,226.201 L679.433,226.584 L680.712,226.965 L681.992,227.343 L683.271,227.718 L684.551,228.091 L685.830,228.462 L687.110,228.830 L688.390,229.196 L689.669,229.559 L690.949,229.920 L692.228,230.279 L693.508,230.635 L694.787,230.989 L696.067,231.341 L697.347,231.691 L698.626,232.038 L699.906,232.383 L701.185,232.726 L702.465,233.066 L703.744,233.405 L705.024,233.741 L706.303,234.075 L707.583,234.407 L708.863,234.737 L710.142,235.065 L711.422,235.391 L712.701,235.715 L713.981,236.037 L715.260,236.357 L716.540,236.675 L717.820,236.991 L719.099,237.304 L720.379,237.617 L721.658,237.927 L722.938,238.235 L724.217,238.541 L725.497,238.846 L726.777,239.148 L728.056,239.449 L729.336,239.748 L730.615,240.045 L731.895,240.341 L733.174,240.634 L734.454,240.926 L735.733,241.216 L737.013,241.505 L738.293,241.791 L739.572,242.076 L740.852,242.360 L742.131,242.641 L743.411,242.921 L744.690,243.200 L745.970,243.477 L747.250,243.752 L748.529,244.025 L749.809,244.297 L751.088,244.568 L752.368,244.836 L753.647,245.104 L754.927,245.370 L756.207,245.634 L757.486,245.896 L758.766,246.158 L760.045,246.417 L761.325,246.676 L762.604,246.933 L763.884,247.188 L765.163,247.442 L766.443,247.694 L767.723,247.946 L769.002,248.195 L770.282,248.444 L771.561,248.690 L772.841,248.936 L774.120,249.180 L775.400,249.423 L777.758,249.871" fill="none" stroke="#000" stroke-width="4.90"  stroke-linejoin="round"/>
<path d="M349.393,336.822 L350.300,334.600 L350.478,334.164 L350.656,333.728 L350.834,333.293 L351.011,332.857 L351.189,332.421 L351.367,331.985 L351.545,331.550 L351.723,331.114 L351.901,330.678 L352.079,330.243 L352.257,329.807 L352.434,329.372 L352.612,328.936 L352.790,328.501 L352.968,328.066 L353.146,327.631 L353.324,327.195 L353.502,326.760 L353.679,326.326 L353.857,325.891 L354.035,325.456 L354.213,325.022 L354.391,324.587 L354.569,324.153 L354.747,323.719 L354.925,323.285 L355.102,322.851 L355.280,322.417 L355.458,321.983 L355.636,321.550 L355.814,321.116 L355.992,320.683 L356.170,320.250 L356.347,319.818 L356.525,319.385 L356.703,318.953 L356.881,318.520 L357.059,318.088 L357.237,317.657 L357.415,317.225 L357.593,316.794 L357.770,316.362 L357.948,315.931 L358.126,315.501 L358.304,315.070 L358.482,314.640 L358.660,314.210 L358.838,313.780 L359.015,313.351 L359.193,312.922 L359.371,312.493 L359.549,312.064 L359.727,311.636 L359.905,311.208 L360.083,310.780 L360.261,310.352 L360.438,309.925 L360.616,309.498 L360.794,309.071 L360.972,308.645 L361.150,308.219 L361.328,307.793 L361.506,307.368 L361.683,306.943 L361.861,306.518 L362.039,306.094 L362.217,305.670 L362.395,305.247 L362.573,304.823 L362.751,304.400 L362.928,303.978 L363.106,303.556 L363.284,303.134 L363.462,302.713 L363.640,302.292 L363.818,301.871 L363.996,301.451 L364.174,301.031 L364.351,300.612 L364.529,300.193 L364.707,299.774 L364.885,299.356 L365.063,298.938 L365.241,298.521 L365.419,298.104 L365.596,297.688 L365.774,297.272 L365.952,296.856 L366.130,296.441 L366.308,296.026 L366.486,295.612 L366.664,295.198 L366.842,294.785 L367.019,294.373 L367.197,293.960 L367.375,293.549 L367.553,293.137 L367.731,292.726 L367.909,292.316 L368.087,291.906 L368.264,291.497 L368.442,291.088 L368.620,290.680 L368.798,290.272 L368.976,289.865 L369.154,289.459 L369.332,289.052 L369.510,288.647 L369.687,288.242 L369.865,287.837 L370.043,287.433 L370.221,287.030 L370.399,286.627 L370.577,286.225 L370.755,285.823 L370.932,285.422 L371.110,285.021 L371.288,284.622 L371.466,284.222 L371.644,283.823 L371.822,283.425 L372.000,283.027 L372.178,282.630 L372.355,282.234 L372.533,281.838 L372.711,281.443 L372.889,281.048 L373.067,280.655 L373.245,280.261 L373.423,279.868 L373.600,279.476 L373.778,279.085 L373.956,278.694 L374.134,278.304 L374.312,277.914 L374.490,277.526 L374.668,277.137 L374.846,276.750 L375.023,276.363 L375.201,275.977 L375.379,275.591 L375.557,275.206 L375.735,274.822 L375.913,274.438 L376.091,274.055 L376.268,273.673 L376.446,273.292 L376.624,272.911 L376.802,272.531 L376.980,272.151 L377.158,271.773 L377.336,271.395 L377.514,271.017 L377.691,270.641 L377.869,270.265 L378.047,269.890 L378.225,269.515 L378.403,269.142 L378.581,268.769 L378.759,268.396 L378.936,268.025 L379.114,267.654 L379.292,267.284 L379.470,266.915 L379.648,266.546 L379.826,266.178 L380.004,265.811 L380.182,265.445 L380.359,265.079 L380.537,264.714 L380.715,264.350 L380.893,263.987 L381.071,263.625 L381.249,263.263 L381.427,262.902 L381.604,262.542 L381.782,262.182 L381.960,261.823 L382.138,261.466 L382.316,261.109 L382.494,260.752 L382.672,260.397 L382.849,260.042 L383.027,259.688 L383.205,259.335 L383.383,258.983 L383.561,258.631 L383.739,258.280 L383.917,257.930 L384.095,257.581 L384.272,257.233 L384.450,256.886 L384.628,256.539 L384.806,256.193 L384.984,255.848 L385.162,255.504 L385.340,255.161 L385.517,254.818 L385.695,254.476 L385.873,254.135 L386.051,253.795 L386.229,253.456 L386.407,253.118 L386.585,252.780 L386.763,252.443 L386.940,252.108 L387.118,251.773 L387.296,251.438 L387.474,251.105 L387.652,250.773 L387.830,250.441 L388.008,250.110 L388.185,249.780 L388.363,249.451 L388.541,249.123 L388.719,248.796 L388.897,248.469 L389.075,248.144 L389.253,247.819 L389.431,247.495 L389.608,247.172 L389.786,246.850 L389.964,246.528 L390.142,246.208 L390.320,245.889 L390.498,245.570 L390.676,245.252 L390.853,244.935 L391.031,244.619 L391.209,244.304 L391.387,243.990 L391.565,243.676 L391.743,243.364 L391.921,243.052 L392.099,242.742 L392.276,242.432 L392.454,242.123 L392.632,241.815 L392.810,241.508 L394.090,239.324 L395.369,237.187 L396.649,235.097 L397.928,233.054 L399.208,231.058 L400.487,229.110 L401.767,227.209 L403.047,225.355 L404.326,223.549 L405.606,221.790 L406.885,220.078 L408.165,218.413 L409.444,216.795 L410.724,215.223 L412.003,213.697 L413.283,212.217 L414.563,210.783 L415.842,209.394 L417.122,208.049 L418.401,206.748 L419.681,205.491 L420.960,204.277 L422.240,203.105 L423.520,201.975 L424.799,200.887 L426.079,199.839 L427.358,198.832 L428.638,197.864 L429.917,196.934 L431.197,196.043 L432.477,195.190 L433.756,194.373 L435.036,193.592 L436.315,192.847 L437.595,192.136 L438.874,191.460 L440.154,190.817 L441.433,190.206 L442.713,189.627 L443.993,189.080 L445.272,188.563 L446.552,188.076 L447.831,187.618 L449.111,187.188 L450.390,186.786 L451.670,186.411 L452.950,186.063 L454.229,185.741 L455.509,185.443 L456.788,185.170 L458.068,184.921 L459.347,184.695 L460.627,184.491 L461.907,184.310 L463.186,184.149 L464.466,184.010 L465.745,183.890 L467.025,183.791 L468.304,183.710 L469.584,183.647 L470.863,183.603 L472.143,183.576 L473.423,183.566 L474.702,183.572 L475.982,183.594 L477.261,183.631 L478.541,183.683 L479.820,183.750 L481.100,183.830 L482.380,183.924 L483.659,184.031 L484.939,184.150 L486.218,184.282 L487.498,184.426 L488.777,184.580 L490.057,184.746 L491.337,184.923 L492.616,185.109 L493.896,185.306 L495.175,185.512 L496.455,185.727 L497.734,185.952 L499.014,186.184 L500.293,186.425 L501.573,186.674 L502.853,186.930 L504.132,187.193 L505.412,187.464 L506.691,187.741 L507.971,188.025 L509.250,188.315 L510.530,188.611 L511.810,188.913 L513.089,189.220 L514.369,189.532 L515.648,189.849 L516.928,190.172 L518.207,190.498 L519.487,190.829 L520.767,191.164 L522.046,191.504 L523.326,191.847 L524.605,192.193 L525.885,192.543 L527.164,192.896 L528.444,193.252 L529.723,193.612 L531.003,193.974 L532.283,194.338 L533.562,194.705 L534.842,195.074 L536.121,195.446 L537.401,195.819 L538.680,196.195 L539.960,196.572 L541.240,196.951 L542.519,197.331 L543.799,197.713 L545.078,198.096 L546.358,198.481 L547.637,198.866 L548.917,199.253 L550.197,199.640 L551.476,200.028 L552.756,200.417 L554.035,200.807 L555.315,201.197 L556.594,201.588 L557.874,201.979 L559.153,202.370 L560.433,202.761 L561.713,203.153 L562.992,203.545 L564.272,203.937 L565.551,204.329 L566.831,204.721 L568.110,205.112 L569.390,205.504 L570.670,205.895 L571.949,206.286 L573.229,206.676 L574.508,207.067 L575.788,207.456 L577.067,207.845 L578.347,208.234 L579.627,208.622 L580.906,209.010 L582.186,209.396 L583.465,209.782 L584.745,210.168 L586.024,210.552 L587.304,210.936 L588.583,211.319 L589.863,211.701 L591.143,212.082 L592.422,212.462 L593.702,212.841 L594.981,213.219 L596.261,213.597 L597.540,213.973 L598.820,214.348 L600.100,214.722 L601.379,215.095 L602.659,215.467 L603.938,215.838 L605.218,216.207 L606.497,216.576 L607.777,216.943 L609.057,217.309 L610.336,217.674 L611.616,218.037 L612.895,218.400 L614.175,218.761 L615.454,219.121 L616.734,219.479 L618.013,219.836 L619.293,220.192 L620.573,220.547 L621.852,220.900 L623.132,221.252 L624.411,221.603 L625.691,221.952 L626.970,222.300 L628.250,222.647 L629.530,222.992 L630.809,223.336 L632.089,223.678 L633.368,224.020 L634.648,224.359 L635.927,224.698 L637.207,225.035 L638.487,225.371 L639.766,225.705 L641.046,226.038 L642.325,226.369 L643.605,226.699 L644.884,227.028 L646.164,227.355 L647.443,227.681 L648.723,228.006 L650.003,228.329 L651.282,228.650 L652.562,228.971 L653.841,229.290 L655.121,229.607 L656.400,229.923 L657.680,230.238 L658.960,230.551 L660.239,230.863 L661.519,231.174 L662.798,231.483 L664.078,231.791 L665.357,232.097 L666.637,232.402 L667.917,232.706 L669.196,233.008 L670.476,233.309 L671.755,233.609 L673.035,233.907 L674.314,234.204 L675.594,234.500 L676.873,234.794 L678.153,235.087 L679.433,235.378 L680.712,235.668 L681.992,235.957 L683.271,236.245 L684.551,236.531 L685.830,236.816 L687.110,237.099 L688.390,237.381 L689.669,237.662 L690.949,237.942 L692.228,238.220 L693.508,238.497 L694.787,238.773 L696.067,239.048 L697.347,239.321 L698.626,239.593 L699.906,239.863 L701.185,240.133 L702.465,240.401 L703.744,240.668 L705.024,240.934 L706.303,241.198 L707.583,241.461 L708.863,241.723 L710.142,241.984 L711.422,242.243 L712.701,242.502 L713.981,242.759 L715.260,243.015 L716.540,243.270 L717.820,243.523 L719.099,243.775 L720.379,244.027 L721.658,244.277 L722.938,244.526 L724.217,244.773 L725.497,245.020 L726.777,245.265 L728.056,245.509 L729.336,245.753 L730.615,245.995 L731.895,246.235 L733.174,246.475 L734.454,246.714 L735.733,246.951 L737.013,247.188 L738.293,247.423 L739.572,247.657 L740.852,247.890 L742.131,248.122 L743.411,248.353 L744.690,248.583 L745.970,248.812 L747.250,249.040 L748.529,249.267 L749.809,249.493 L751.088,249.717 L752.368,249.941 L753.647,250.163 L754.927,250.385 L756.207,250.606 L757.486,250.825 L758.766,251.044 L760.045,251.261 L761.325,251.478 L762.604,251.693 L763.884,251.908 L765.163,252.121 L766.443,252.334 L767.723,252.546 L769.002,252.756 L770.282,252.966 L771.561,253.175 L772.841,253.383 L774.120,253.590 L775.400,253.796 L777.770,254.177" fill="none" stroke="#f00" stroke-width="4.90" stroke-dasharray="13.8 4.7" stroke-linejoin="round"/>
<path d="M364.47,334.50 v-3.60 M364.47,61.10 v3.60 M378.64,334.50 v-3.60 M378.64,61.10 v3.60 M392.81,334.50 v-3.60 M392.81,61.10 v3.60 M406.98,334.50 v-3.60 M406.98,61.10 v3.60 M435.32,334.50 v-3.60 M435.32,61.10 v3.60 M449.49,334.50 v-3.60 M449.49,61.10 v3.60 M463.66,334.50 v-3.60 M463.66,61.10 v3.60 M477.83,334.50 v-3.60 M477.83,61.10 v3.60 M506.17,334.50 v-3.60 M506.17,61.10 v3.60 M520.34,334.50 v-3.60 M520.34,61.10 v3.60 M534.51,334.50 v-3.60 M534.51,61.10 v3.60 M548.68,334.50 v-3.60 M548.68,61.10 v3.60 M577.02,334.50 v-3.60 M577.02,61.10 v3.60 M591.19,334.50 v-3.60 M591.19,61.10 v3.60 M605.36,334.50 v-3.60 M605.36,61.10 v3.60 M619.53,334.50 v-3.60 M619.53,61.10 v3.60 M647.87,334.50 v-3.60 M647.87,61.10 v3.60 M662.04,334.50 v-3.60 M662.04,61.10 v3.60 M676.21,334.50 v-3.60 M676.21,61.10 v3.60 M690.38,334.50 v-3.60 M690.38,61.10 v3.60 M718.72,334.50 v-3.60 M718.72,61.10 v3.60 M732.89,334.50 v-3.60 M732.89,61.10 v3.60 M747.06,334.50 v-3.60 M747.06,61.10 v3.60 M761.23,334.50 v-3.60 M761.23,61.10 v3.60 M350.30,334.50 v-5.50 M350.30,61.10 v5.50 M421.15,334.50 v-5.50 M421.15,61.10 v5.50 M492.00,334.50 v-5.50 M492.00,61.10 v5.50 M562.85,334.50 v-5.50 M562.85,61.10 v5.50 M633.70,334.50 v-5.50 M633.70,61.10 v5.50 M704.55,334.50 v-5.50 M704.55,61.10 v5.50 M775.40,334.50 v-5.50 M775.40,61.10 v5.50 M341.60,321.46 h3.60 M784.40,321.46 h-3.60 M341.60,308.32 h3.60 M784.40,308.32 h-3.60 M341.60,295.18 h3.60 M784.40,295.18 h-3.60 M341.60,268.90 h3.60 M784.40,268.90 h-3.60 M341.60,255.76 h3.60 M784.40,255.76 h-3.60 M341.60,242.62 h3.60 M784.40,242.62 h-3.60 M341.60,216.34 h3.60 M784.40,216.34 h-3.60 M341.60,203.20 h3.60 M784.40,203.20 h-3.60 M341.60,190.06 h3.60 M784.40,190.06 h-3.60 M341.60,163.78 h3.60 M784.40,163.78 h-3.60 M341.60,150.64 h3.60 M784.40,150.64 h-3.60 M341.60,137.50 h3.60 M784.40,137.50 h-3.60 M341.60,111.22 h3.60 M784.40,111.22 h-3.60 M341.60,98.08 h3.60 M784.40,98.08 h-3.60 M341.60,84.94 h3.60 M784.40,84.94 h-3.60 M341.60,334.60 h5.50 M784.40,334.60 h-5.50 M341.60,282.04 h5.50 M784.40,282.04 h-5.50 M341.60,229.48 h5.50 M784.40,229.48 h-5.50 M341.60,176.92 h5.50 M784.40,176.92 h-5.50 M341.60,124.36 h5.50 M784.40,124.36 h-5.50 M341.60,71.80 h5.50 M784.40,71.80 h-5.50 " stroke="#000" stroke-width="2.10" fill="none"/>
<rect x="341.60" y="61.10" width="442.80" height="273.40" fill="none" stroke="#000" stroke-width="2.6"/>
<path d="M348.058,335.455 L350.300,334.600 L350.478,334.532 L350.656,334.464 L350.834,334.396 L351.011,334.329 L351.189,334.261 L351.367,334.193 L351.545,334.125 L351.723,334.057 L351.901,333.989 L352.079,333.922 L352.257,333.854 L352.434,333.786 L352.612,333.718 L352.790,333.650 L352.968,333.582 L353.146,333.515 L353.324,333.447 L353.502,333.379 L353.679,333.311 L353.857,333.243 L354.035,333.175 L354.213,333.108 L354.391,333.040 L354.569,332.972 L354.747,332.904 L354.925,332.836 L355.102,332.769 L355.280,332.701 L355.458,332.633 L355.636,332.565 L355.814,332.497 L355.992,332.430 L356.170,332.362 L356.347,332.294 L356.525,332.226 L356.703,332.159 L356.881,332.091 L357.059,332.023 L357.237,331.955 L357.415,331.888 L357.593,331.820 L357.770,331.752 L357.948,331.684 L358.126,331.617 L358.304,331.549 L358.482,331.481 L358.660,331.413 L358.838,331.346 L359.015,331.278 L359.193,331.210 L359.371,331.143 L359.549,331.075 L359.727,331.007 L359.905,330.940 L360.083,330.872 L360.261,330.804 L360.438,330.737 L360.616,330.669 L360.794,330.602 L360.972,330.534 L361.150,330.466 L361.328,330.399 L361.506,330.331 L361.683,330.264 L361.861,330.196 L362.039,330.128 L362.217,330.061 L362.395,329.993 L362.573,329.926 L362.751,329.858 L362.928,329.791 L363.106,329.723 L363.284,329.656 L363.462,329.588 L363.640,329.521 L363.818,329.453 L363.996,329.386 L364.174,329.318 L364.351,329.251 L364.529,329.183 L364.707,329.116 L364.885,329.049 L365.063,328.981 L365.241,328.914 L365.419,328.846 L365.596,328.779 L365.774,328.712 L365.952,328.644 L366.130,328.577 L366.308,328.510 L366.486,328.442 L366.664,328.375 L366.842,328.308 L367.019,328.241 L367.197,328.173 L367.375,328.106 L367.553,328.039 L367.731,327.972 L367.909,327.904 L368.087,327.837 L368.264,327.770 L368.442,327.703 L368.620,327.636 L368.798,327.569 L368.976,327.501 L369.154,327.434 L369.332,327.367 L369.510,327.300 L369.687,327.233 L369.865,327.166 L370.043,327.099 L370.221,327.032 L370.399,326.965 L370.577,326.898 L370.755,326.831 L370.932,326.764 L371.110,326.697 L371.288,326.630 L371.466,326.563 L371.644,326.496 L371.822,326.429 L372.000,326.362 L372.178,326.296 L372.355,326.229 L372.533,326.162 L372.711,326.095 L372.889,326.028 L373.067,325.961 L373.245,325.895 L373.423,325.828 L373.600,325.761 L373.778,325.694 L373.956,325.628 L374.134,325.561 L374.312,325.494 L374.490,325.428 L374.668,325.361 L374.846,325.295 L375.023,325.228 L375.201,325.161 L375.379,325.095 L375.557,325.028 L375.735,324.962 L375.913,324.895 L376.091,324.829 L376.268,324.762 L376.446,324.696 L376.624,324.629 L376.802,324.563 L376.980,324.497 L377.158,324.430 L377.336,324.364 L377.514,324.298 L377.691,324.231 L377.869,324.165 L378.047,324.099 L378.225,324.032 L378.403,323.966 L378.581,323.900 L378.759,323.834 L378.936,323.768 L379.114,323.701 L379.292,323.635 L379.470,323.569 L379.648,323.503 L379.826,323.437 L380.004,323.371 L380.182,323.305 L380.359,323.239 L380.537,323.173 L380.715,323.107 L380.893,323.041 L381.071,322.975 L381.249,322.909 L381.427,322.843 L381.604,322.778 L381.782,322.712 L381.960,322.646 L382.138,322.580 L382.316,322.514 L382.494,322.449 L382.672,322.383 L382.849,322.317 L383.027,322.252 L383.205,322.186 L383.383,322.120 L383.561,322.055 L383.739,321.989 L383.917,321.924 L384.095,321.858 L384.272,321.793 L384.450,321.727 L384.628,321.662 L384.806,321.596 L384.984,321.531 L385.162,321.465 L385.340,321.400 L385.517,321.335 L385.695,321.269 L385.873,321.204 L386.051,321.139 L386.229,321.074 L386.407,321.009 L386.585,320.943 L386.763,320.878 L386.940,320.813 L387.118,320.748 L387.296,320.683 L387.474,320.618 L387.652,320.553 L387.830,320.488 L388.008,320.423 L388.185,320.358 L388.363,320.293 L388.541,320.228 L388.719,320.163 L388.897,320.098 L389.075,320.034 L389.253,319.969 L389.431,319.904 L389.608,319.839 L389.786,319.775 L389.964,319.710 L390.142,319.645 L390.320,319.581 L390.498,319.516 L390.676,319.452 L390.853,319.387 L391.031,319.323 L391.209,319.258 L391.387,319.194 L391.565,319.129 L391.743,319.065 L391.921,319.001 L392.099,318.936 L392.276,318.872 L392.454,318.808 L392.632,318.743 L392.810,318.679 L394.090,318.218 L395.369,317.759 L396.649,317.301 L397.928,316.845 L399.208,316.390 L400.487,315.937 L401.767,315.487 L403.047,315.037 L404.326,314.590 L405.606,314.145 L406.885,313.701 L408.165,313.259 L409.444,312.820 L410.724,312.382 L412.003,311.947 L413.283,311.513 L414.563,311.082 L415.842,310.653 L417.122,310.226 L418.401,309.801 L419.681,309.378 L420.960,308.958 L422.240,308.540 L423.520,308.124 L424.799,307.711 L426.079,307.300 L427.358,306.891 L428.638,306.485 L429.917,306.082 L431.197,305.680 L432.477,305.282 L433.756,304.886 L435.036,304.492 L436.315,304.101 L437.595,303.712 L438.874,303.327 L440.154,302.943 L441.433,302.563 L442.713,302.185 L443.993,301.809 L445.272,301.437 L446.552,301.067 L447.831,300.700 L449.111,300.335 L450.390,299.974 L451.670,299.615 L452.950,299.259 L454.229,298.905 L455.509,298.555 L456.788,298.207 L458.068,297.862 L459.347,297.520 L460.627,297.181 L461.907,296.845 L463.186,296.511 L464.466,296.181 L465.745,295.853 L467.025,295.528 L468.304,295.206 L469.584,294.887 L470.863,294.571 L472.143,294.258 L473.423,293.947 L474.702,293.640 L475.982,293.335 L477.261,293.034 L478.541,292.735 L479.820,292.439 L481.100,292.146 L482.380,291.856 L483.659,291.569 L484.939,291.285 L486.218,291.004 L487.498,290.725 L488.777,290.450 L490.057,290.177 L491.337,289.908 L492.616,289.641 L493.896,289.377 L495.175,289.116 L496.455,288.858 L497.734,288.603 L499.014,288.350 L500.293,288.101 L501.573,287.854 L502.853,287.610 L504.132,287.369 L505.412,287.131 L506.691,286.896 L507.971,286.663 L509.250,286.434 L510.530,286.207 L511.810,285.983 L513.089,285.761 L514.369,285.543 L515.648,285.327 L516.928,285.114 L518.207,284.903 L519.487,284.696 L520.767,284.491 L522.046,284.289 L523.326,284.089 L524.605,283.892 L525.885,283.698 L527.164,283.507 L528.444,283.318 L529.723,283.131 L531.003,282.948 L532.283,282.766 L533.562,282.588 L534.842,282.412 L536.121,282.239 L537.401,282.068 L538.680,281.899 L539.960,281.733 L541.240,281.570 L542.519,281.409 L543.799,281.251 L545.078,281.095 L546.358,280.941 L547.637,280.790 L548.917,280.641 L550.197,280.495 L551.476,280.351 L552.756,280.209 L554.035,280.070 L555.315,279.933 L556.594,279.799 L557.874,279.666 L559.153,279.536 L560.433,279.408 L561.713,279.283 L562.992,279.159 L564.272,279.038 L565.551,278.919 L566.831,278.802 L568.110,278.687 L569.390,278.575 L570.670,278.464 L571.949,278.356 L573.229,278.250 L574.508,278.146 L575.788,278.043 L577.067,277.943 L578.347,277.845 L579.627,277.749 L580.906,277.655 L582.186,277.563 L583.465,277.473 L584.745,277.384 L586.024,277.298 L587.304,277.214 L588.583,277.131 L589.863,277.050 L591.143,276.971 L592.422,276.894 L593.702,276.819 L594.981,276.746 L596.261,276.674 L597.540,276.604 L598.820,276.536 L600.100,276.470 L601.379,276.405 L602.659,276.342 L603.938,276.281 L605.218,276.221 L606.497,276.163 L607.777,276.107 L609.057,276.052 L610.336,275.999 L611.616,275.947 L612.895,275.897 L614.175,275.849 L615.454,275.802 L616.734,275.756 L618.013,275.713 L619.293,275.670 L620.573,275.629 L621.852,275.590 L623.132,275.552 L624.411,275.515 L625.691,275.480 L626.970,275.446 L628.250,275.414 L629.530,275.383 L630.809,275.353 L632.089,275.325 L633.368,275.298 L634.648,275.272 L635.927,275.247 L637.207,275.224 L638.487,275.202 L639.766,275.182 L641.046,275.162 L642.325,275.144 L643.605,275.127 L644.884,275.111 L646.164,275.097 L647.443,275.083 L648.723,275.071 L650.003,275.060 L651.282,275.050 L652.562,275.041 L653.841,275.033 L655.121,275.026 L656.400,275.021 L657.680,275.016 L658.960,275.013 L660.239,275.010 L661.519,275.009 L662.798,275.008 L664.078,275.009 L665.357,275.010 L666.637,275.013 L667.917,275.016 L669.196,275.021 L670.476,275.026 L671.755,275.032 L673.035,275.039 L674.314,275.048 L675.594,275.056 L676.873,275.066 L678.153,275.077 L679.433,275.089 L680.712,275.101 L681.992,275.114 L683.271,275.129 L684.551,275.143 L685.830,275.159 L687.110,275.176 L688.390,275.193 L689.669,275.211 L690.949,275.230 L692.228,275.250 L693.508,275.270 L694.787,275.291 L696.067,275.313 L697.347,275.335 L698.626,275.358 L699.906,275.382 L701.185,275.407 L702.465,275.432 L703.744,275.458 L705.024,275.485 L706.303,275.512 L707.583,275.540 L708.863,275.568 L710.142,275.598 L711.422,275.627 L712.701,275.658 L713.981,275.689 L715.260,275.720 L716.540,275.752 L717.820,275.785 L719.099,275.818 L720.379,275.852 L721.658,275.886 L722.938,275.921 L724.217,275.956 L725.497,275.992 L726.777,276.029 L728.056,276.066 L729.336,276.103 L730.615,276.141 L731.895,276.180 L733.174,276.218 L734.454,276.258 L735.733,276.298 L737.013,276.338 L738.293,276.379 L739.572,276.420 L740.852,276.461 L742.131,276.503 L743.411,276.546 L744.690,276.589 L745.970,276.632 L747.250,276.676 L748.529,276.720 L749.809,276.764 L751.088,276.809 L752.368,276.854 L753.647,276.900 L754.927,276.946 L756.207,276.992 L757.486,277.039 L758.766,277.086 L760.045,277.133 L761.325,277.181 L762.604,277.228 L763.884,277.277 L765.163,277.325 L766.443,277.374 L767.723,277.424 L769.002,277.473 L770.282,277.523 L771.561,277.573 L772.841,277.624 L774.120,277.674 L775.400,277.725 L777.798,277.821" fill="none" stroke="#00f" stroke-width="4.90" stroke-dasharray="6.9 4.67" stroke-linejoin="round"/>
<g font-family="'Liberation Serif', serif" fill="#000" stroke="#fff" stroke-width="0.5">
<text x="107.25" y="492.80" font-size="33.00">0</text>
<text x="213.81" y="492.80" font-size="33.00">50</text>
<text x="320.20" y="492.80" font-size="33.00">100</text>
<text x="435.33" y="492.80" font-size="33.00">150</text>
<text x="551.12" y="492.80" font-size="33.00">200</text>
<text x="666.26" y="492.80" font-size="33.00">250</text>
<text x="781.40" y="492.80" font-size="33.00">300</text>
<text x="52.74" y="461.50" font-size="33.00">0.0</text>
<text x="53.40" y="373.62" font-size="33.00">0.2</text>
<text x="52.08" y="285.74" font-size="33.00">0.4</text>
<text x="52.41" y="197.86" font-size="33.00">0.6</text>
<text x="52.74" y="109.98" font-size="33.00">0.8</text>
<text x="52.74" y="22.10" font-size="33.00">1.0</text>
<text x="341.75" y="378.60" font-size="33.00">0</text>
<text x="404.02" y="378.60" font-size="33.00">50</text>
<text x="466.12" y="378.60" font-size="33.00">100</text>
<text x="536.98" y="378.60" font-size="33.00">150</text>
<text x="608.49" y="378.60" font-size="33.00">200</text>
<text x="679.34" y="378.60" font-size="33.00">250</text>
<text x="750.19" y="378.60" font-size="33.00">300</text>
<text x="294.04" y="348.80" font-size="33.00">0.0</text>
<text x="294.70" y="296.24" font-size="33.00">0.2</text>
<text x="293.38" y="243.68" font-size="33.00">0.4</text>
<text x="293.71" y="191.12" font-size="33.00">0.6</text>
<text x="294.04" y="138.56" font-size="33.00">0.8</text>
<text x="294.04" y="86.00" font-size="33.00">1.0</text>
<text transform="translate(143.91,47.70) scale(1.070,1)" font-size="34.50" font-style="italic">B</text>
<text transform="translate(165.34,52.20) scale(0.970,1)" font-size="22.00" stroke-width="0.3">exch</text>
<text transform="translate(215.20,50.70) scale(1.320,1)" font-size="33.00">=</text>
<text transform="translate(247.56,47.70) scale(0.940,1)" font-size="32.50">5</text>
<text x="272.64" y="47.20" font-size="33.00">mT</text>
<text transform="translate(554.11,119.60) scale(1.070,1)" font-size="34.50" font-style="italic">B</text>
<text transform="translate(575.54,124.10) scale(0.970,1)" font-size="22.00" stroke-width="0.3">exch</text>
<text transform="translate(625.40,122.60) scale(1.320,1)" font-size="33.00">=</text>
<text transform="translate(657.22,119.60) scale(0.940,1)" font-size="32.50">50</text>
<text x="697.54" y="119.10" font-size="33.00">mT</text>
<text transform="translate(404.31,543.10) scale(1.070,1)" font-size="34.50" font-style="italic">B</text>
<text x="428.94" y="547.80" font-size="22.00" font-style="italic" stroke-width="0.3">z</text>
<text x="448.68" y="543.60" font-size="35.00">(</text>
<text x="459.94" y="543.10" font-size="33.00">mT</text>
<text x="506.00" y="543.60" font-size="35.00">)</text>
<text transform="translate(26.20,248.60) rotate(-90)" font-size="35.00">|</text>
<text transform="translate(26.20,238.02) rotate(-90)" font-size="33.50" font-style="italic">P</text>
<text transform="translate(31.10,219.66) rotate(-90)" font-size="22.00" font-style="italic" stroke-width="0.3">e</text>
<text transform="translate(26.20,208.80) rotate(-90)" font-size="35.00">|</text>
</g>
</svg>
</body></html>
